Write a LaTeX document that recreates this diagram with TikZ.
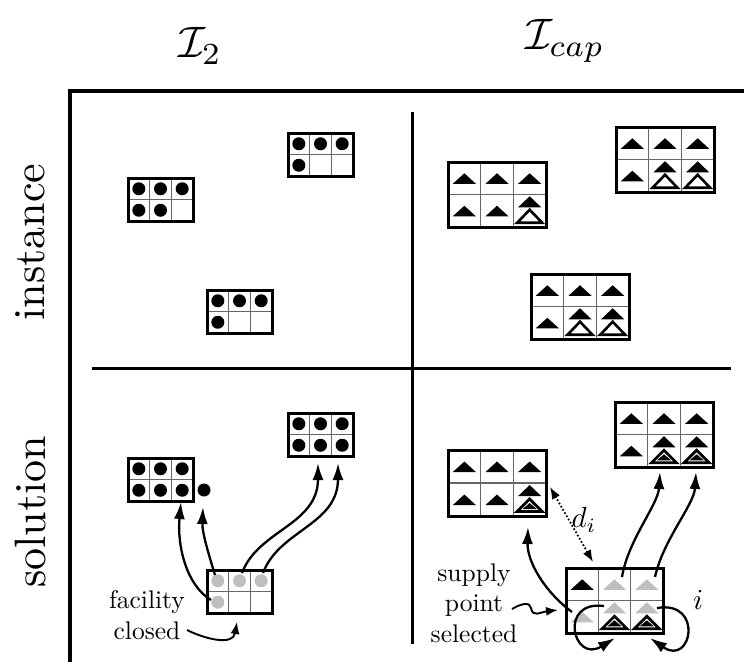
\documentclass[tikz,border=0pt]{standalone}
\usetikzlibrary{arrows.meta}
\newcommand\mkbox[5]{%
  \draw[gridst] ({#2+#4/3},#3) -- ({#2+#4/3},{#3+#5})
    ({#2+2*#4/3},#3) -- ({#2+2*#4/3},{#3+#5})
    (#2,{#3+#5/2}) -- ({#2+#4},{#3+#5/2});
  \node[boxst, minimum width=#4pt, minimum height=#5pt] (#1) at ({#2+#4/2},{#3+#5/2}) {};
  \foreach \r in {1,2}{\foreach \c in {1,2,3}{%
    \coordinate (#1-\r-\c) at ({#2+(\c-0.5)*#4/3},{#3+(\r-0.5)*#5/2});}}%
}
\tikzset{
  btri/.pic={\fill (-11.5,5.5) -- (11.5,5.5) -- (0,-5) -- cycle;},
  gtri/.pic={\fill[gray!50] (-11.5,5.5) -- (11.5,5.5) -- (0,-5) -- cycle;},
  btriup/.pic={\fill (-11.5,-3.5) -- (11.5,-3.5) -- (0,-14.5) -- cycle;},
  gtriup/.pic={\fill[gray!50] (-11.5,-3.5) -- (11.5,-3.5) -- (0,-14.5) -- cycle;},
  htri/.pic={\draw[line width=2.6pt, line join=miter] (-12.5,12) -- (12.5,12) -- (0,-1) -- cycle;},
  stri/.pic={\draw[line width=2.8pt, line join=miter] (-12.5,12) -- (12.5,12) -- (0,-0.5) -- cycle;
             \fill (-7,9.5) -- (7,9.5) -- (0,3.5) -- cycle;},
}
\begin{document}
\begin{tikzpicture}[x=1pt,y=-1pt,
  frame/.style={line width=3.2pt},
  divline/.style={line width=3pt},
  boxst/.style={draw, line width=3pt, inner sep=0pt, outer sep=0pt},
  gridst/.style={draw=black!60, line width=1.6pt},
  arr/.style={line width=2.3pt, -{Latex[length=17pt,width=11pt]}},
  sarr/.style={line width=1.9pt, -{Latex[length=12pt,width=9pt]}},
  darr/.style={line width=1.7pt, dotted, {Latex[length=12pt,width=9pt]}-{Latex[length=12pt,width=9pt]}},
  big/.style={scale=4.4, inner sep=0pt},
  mid/.style={scale=2.55, align=center, inner sep=0pt},
  lab/.style={scale=2.9, inner sep=0pt},
]
\useasboundingbox (0,0) rectangle (744,662);
% frame
\draw[frame] (744,91) -- (70,91) -- (70,662);
\draw[divline] (92,368) -- (731,368);
\draw[divline] (412,112) -- (412,644);
% headings
\node[big] (t2) at (200,46) {$\mathcal{I}_2$};
\node[big] (tcap) at (565,41) {$\mathcal{I}_{cap}$};
\node[big, rotate=90] (inst) at (30,242) {instance};
\node[big, rotate=90] (sol) at (30,512) {solution};
% ---------- instance I2
\mkbox{A}{128}{178}{65}{43}
\mkbox{B}{288}{133}{65}{43}
\mkbox{C}{207}{290}{65}{43}
\foreach \p in {A-1-1,A-1-2,A-1-3,A-2-1,A-2-2,B-1-1,B-1-2,B-1-3,B-2-1,C-1-1,C-1-2,C-1-3,C-2-1}
  \fill (\p) circle (6.5pt);
% ---------- instance Icap
\mkbox{D}{448}{162}{98}{65}
\mkbox{E}{616}{127}{98}{65}
\mkbox{F}{531}{274}{98}{65}
\foreach \p in {D-1-1,D-1-2,D-1-3,D-2-1,D-2-2,E-1-1,E-1-2,E-1-3,E-2-1,F-1-1,F-1-2,F-1-3,F-2-1}
  \pic at (\p) {btri};
\foreach \p in {D-2-3,E-2-2,E-2-3,F-2-2,F-2-3}
  {\pic at (\p) {btriup}; \pic at (\p) {htri};}
% ---------- solution I2
\mkbox{G}{128}{458}{65}{43}
\mkbox{H}{288}{413}{65}{43}
\mkbox{I}{207}{570}{65}{43}
\foreach \p in {G-1-1,G-1-2,G-1-3,G-2-1,G-2-2,G-2-3,H-1-1,H-1-2,H-1-3,H-2-1,H-2-2,H-2-3}
  \fill (\p) circle (6.5pt);
\coordinate (xdot) at (204,490);
\fill (xdot) circle (6.5pt);
\foreach \p in {I-1-1,I-1-2,I-1-3,I-2-1}
  \fill[gray!50] (\p) circle (6.5pt);
\coordinate (Gb) at (181,502);
\coordinate (xb) at (203,507);
\coordinate (Hb2) at (318,463);
\coordinate (Hb3) at (338,463);
\coordinate (s21) at (211,600);
\coordinate (s11) at (215,575);
\coordinate (s12) at (242,573);
\coordinate (s13) at (263,573);
\draw[arr] (s21) .. controls (186,585) and (177,545) .. (Gb);
\draw[arr] (s11) .. controls (208,552) and (202,532) .. (xb);
\draw[arr] (s12) .. controls (258,530) and (318,525) .. (Hb2);
\draw[arr] (s13) .. controls (279,530) and (338,525) .. (Hb3);
\node[mid] (fc) at (147,615) {facility\\closed};
\coordinate (fcs) at (187,630);
\coordinate (fct) at (237,622);
\draw[sarr] (fcs) .. controls (205,639) and (233,646) .. (fct);
% ---------- solution Icap
\mkbox{J}{448}{450}{98}{66}
\mkbox{K}{615}{402}{98}{65}
\mkbox{L}{566}{568}{97}{65}
\foreach \p in {J-1-1,J-1-2,J-1-3,J-2-1,J-2-2,K-1-1,K-1-2,K-1-3,K-2-1,L-1-1}
  \pic at (\p) {btri};
\foreach \p in {J-2-3,K-2-2,K-2-3}
  {\pic at (\p) {btriup}; \pic at (\p) {stri};}
\foreach \p in {L-1-2,L-1-3,L-2-1}
  \pic at (\p) {gtri};
\foreach \p in {L-2-2,L-2-3}
  {\pic at (\p) {gtriup}; \pic at (\p) {stri};}
\coordinate (Jb) at (528,527);
\coordinate (Kb2) at (660,472);
\coordinate (Kb3) at (696,472);
\coordinate (l21) at (572,612);
\coordinate (l12) at (622,577);
\coordinate (l13) at (655,577);
\draw[arr] (l21) .. controls (545,592) and (527,562) .. (Jb);
\draw[arr] (l12) .. controls (628,540) and (658,505) .. (Kb2);
\draw[arr] (l13) .. controls (663,540) and (694,505) .. (Kb3);
\coordinate (dtop) at (550,487);
\coordinate (dbot) at (593,562);
\draw[darr] (dbot) -- (dtop);
\node[lab] (di) at (584,520) {$d_i$};
\node[lab] (il) at (698,600) {$i$};
% loops
\coordinate (lp1s) at (604,606);
\coordinate (lp1e) at (615,638);
\coordinate (lp2s) at (657,608);
\coordinate (lp2e) at (650,638);
\draw[arr] (lp1s) .. controls (558,600) and (573,664) .. (lp1e);
\draw[arr] (lp2s) .. controls (704,600) and (692,667) .. (lp2e);
% supply point selected
\node[mid] (sps) at (474,603) {supply\\point\\selected};
\coordinate (sqs) at (512,609);
\coordinate (sqe) at (558,610);
\draw[sarr] (sqs) .. controls (522,603) and (530,602) .. (531,608) .. controls (533,618) and (540,612) .. (sqe);
\end{tikzpicture}
\end{document}
